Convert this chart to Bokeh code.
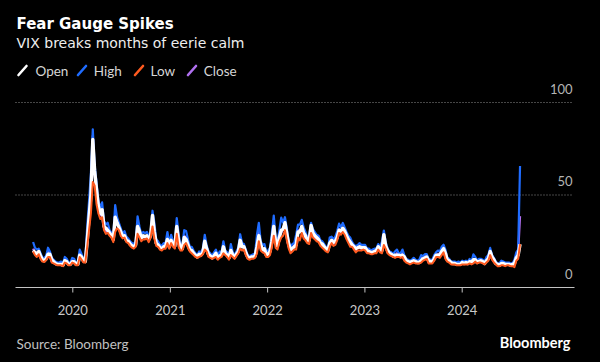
import pandas as pd
from bokeh.plotting import figure
from bokeh.models import Range1d, Label, Arrow
from bokeh.embed import file_html
from bokeh.resources import INLINE

# ---------------- data ----------------
title_text = "Fear Gauge Spikes"
subtitle_text = "VIX breaks months of eerie calm"
source_text = "Source: Bloomberg"
brand_text = "Bloomberg"
series_names = ["Open", "High", "Low", "Close"]
series_colors = ["#ffffff", "#1f6cff", "#ff5a1f", "#b070f0"]
x_tick_labels = ["2020", "2021", "2022", "2023", "2024"]
y_tick_values = [0, 50, 100]
first_week = "2019-08-05"
last_week = "2024-08-05"

open_vals = [
    20.0, 19.0, 17.5, 19.5, 17.0, 15.0, 14.5, 15.5, 18.0, 18.0, 15.0, 14.0, 13.0, 12.5, 12.5, 12.5, 12.0, 14.5, 14.0, 12.5, 12.5, 14.0,
    14.0, 12.5, 12.5, 17.5, 16.5, 14.5, 14.0, 25.0, 38.0, 50.0, 80.0, 63.0, 53.0, 44.0, 40.0, 42.0, 33.0, 32.0, 31.0, 29.5,
    28.0, 26.0, 38.0, 35.0, 32.5, 30.0, 27.5, 28.0, 25.5, 25.0, 23.5, 22.5, 22.0, 23.0, 33.0, 30.5, 26.5, 28.0, 27.5, 28.0,
    26.0, 28.0, 39.0, 30.0, 24.0, 23.0, 21.5, 21.0, 22.0, 22.5, 26.0, 22.0,
    25.5, 23.0, 22.5, 33.0, 25.0, 21.0, 21.0, 27.0, 26.0, 23.0, 20.5, 20.0, 18.5, 17.5, 16.5, 18.0, 17.5, 19.0, 25.0, 21.0,
    18.0, 17.0, 16.0, 17.0, 18.5, 16.0, 17.0, 17.5, 22.0, 18.5, 17.5, 16.0, 20.0, 17.5, 16.5, 18.0, 19.5, 25.5, 22.0, 22.0,
    19.0, 16.5, 16.0, 16.5, 16.5, 17.0, 22.0, 28.0, 23.0, 20.5, 21.0, 17.5,
    18.0, 19.5, 25.0, 33.0, 24.5, 22.5, 27.0, 31.0, 31.5, 35.0, 29.0, 23.5, 20.5, 21.0, 22.0, 23.0, 30.0, 30.0, 33.0, 29.5,
    28.0, 25.0, 25.5, 33.5, 29.5, 28.0, 27.0, 26.0, 24.0, 23.5, 22.0, 21.0, 20.0, 24.0, 25.5, 24.5, 25.0, 27.0, 31.0, 30.5,
    32.0, 30.5, 28.0, 26.0, 24.5, 23.0, 22.0, 21.0, 21.5, 22.0, 21.5, 21.5,
    21.5, 20.0, 19.5, 19.0, 19.0, 19.5, 20.0, 22.0, 20.5, 20.0, 28.5, 22.5, 20.0, 18.5, 18.0, 17.0, 17.5, 17.5, 17.5, 17.0,
    17.5, 16.5, 14.5, 14.0, 13.5, 14.0, 14.5, 14.0, 13.5, 13.5, 14.5, 15.5, 16.0, 16.5, 14.5, 14.0, 14.0, 15.5, 17.5, 17.5,
    17.5, 19.5, 21.0, 18.5, 15.0, 14.5, 13.5, 13.0, 13.0, 12.5, 12.5, 12.5,
    13.5, 13.0, 13.5, 13.0, 14.0, 13.5, 15.0, 15.0, 13.5, 14.0, 14.5, 14.0, 13.0, 14.5, 15.5, 19.5, 16.5, 15.0, 13.0, 12.5,
    12.0, 13.0, 13.0, 12.5, 12.5, 12.5, 12.0, 12.5, 13.0, 16.0, 17.5, 23.4,
]

high_vals = [
    24.6, 21.5, 20.5, 21.0, 18.5, 16.0, 16.0, 17.0, 21.5, 19.5, 16.0, 15.0, 14.0, 13.5, 13.5, 14.0, 13.0, 16.5, 15.5, 13.5, 13.5, 16.0,
    15.5, 13.5, 14.0, 20.5, 18.0, 15.5, 15.5, 33.0, 47.0, 62.0, 85.5, 66.0, 57.0, 47.0, 43.0, 46.0, 36.0, 34.0, 35.0, 31.0,
    29.5, 28.0, 44.5, 38.0, 35.0, 32.0, 29.0, 30.5, 27.5, 26.5, 25.0, 24.0, 23.5, 25.0, 38.5, 33.0, 28.5, 30.0, 29.5, 30.0,
    27.5, 29.5, 41.5, 35.0, 26.0, 25.0, 23.0, 22.5, 24.0, 24.0, 30.0, 23.5,
    28.5, 25.0, 25.0, 37.5, 29.0, 22.5, 23.0, 31.0, 30.5, 26.0, 22.0, 22.0, 20.0, 18.5, 17.5, 19.5, 19.0, 21.0, 28.5, 23.0,
    19.5, 18.5, 17.0, 19.0, 20.5, 17.0, 19.5, 19.0, 25.0, 20.0, 19.0, 17.0, 23.5, 19.0, 17.5, 19.5, 21.5, 28.8, 24.0, 23.5,
    20.5, 17.5, 17.0, 17.5, 18.0, 18.5, 28.5, 35.0, 25.0, 23.0, 23.5, 19.0,
    20.0, 21.5, 29.5, 38.9, 27.0, 25.0, 31.0, 37.8, 35.0, 38.0, 32.0, 25.0, 22.0, 23.5, 24.0, 28.5, 34.0, 34.0, 36.6, 32.5,
    30.0, 27.0, 28.0, 35.0, 31.5, 30.0, 28.5, 28.0, 25.5, 25.0, 23.5, 22.0, 21.0, 27.0, 27.5, 26.0, 27.5, 30.5, 34.5, 32.5,
    34.9, 32.5, 30.0, 28.0, 27.0, 24.5, 23.0, 22.5, 23.0, 24.0, 23.0, 23.0,
    23.0, 21.0, 21.0, 20.0, 20.5, 21.0, 21.0, 23.5, 21.5, 25.0, 30.8, 24.5, 21.0, 19.5, 19.0, 18.0, 19.5, 20.5, 18.5, 18.5,
    20.5, 17.5, 15.5, 15.0, 14.5, 15.0, 16.0, 15.0, 14.5, 15.0, 17.5, 17.0, 18.0, 18.0, 15.5, 15.0, 15.0, 17.5, 19.0, 20.0,
    19.5, 22.0, 23.1, 20.5, 16.0, 15.5, 14.0, 14.0, 14.0, 13.5, 14.0, 13.5,
    14.5, 14.0, 14.5, 14.0, 15.5, 14.0, 17.9, 16.5, 14.5, 15.5, 15.5, 15.0, 14.0, 16.5, 17.5, 21.4, 17.5, 16.0, 14.0, 13.0,
    13.0, 14.5, 14.0, 13.5, 13.5, 13.5, 13.0, 13.0, 15.0, 19.0, 20.5, 65.7,
]

low_vals = [
    19.5, 17.5, 16.5, 18.0, 15.5, 14.0, 13.8, 14.8, 16.5, 16.5, 13.5, 13.0, 12.5, 12.0, 12.0, 12.0, 11.5, 13.5, 13.0, 12.0, 12.0, 13.5,
    13.0, 12.0, 12.0, 16.5, 15.0, 13.5, 13.5, 22.0, 31.0, 40.0, 57.0, 55.0, 45.0, 40.0, 37.0, 38.0, 31.0, 29.0, 29.5, 28.0,
    27.0, 24.5, 30.0, 32.0, 31.0, 28.0, 26.5, 27.0, 24.5, 24.0, 22.5, 21.5, 21.0, 22.0, 29.0, 27.0, 25.0, 26.0, 26.0, 26.5,
    24.5, 27.0, 33.0, 26.5, 22.5, 22.0, 20.5, 20.0, 21.0, 21.0, 24.0, 21.0,
    24.0, 22.0, 21.0, 29.0, 22.0, 20.0, 20.0, 23.0, 24.0, 21.5, 19.5, 18.5, 17.5, 16.5, 16.0, 16.5, 17.0, 18.0, 20.5, 19.5,
    16.5, 16.0, 15.5, 16.0, 16.5, 15.0, 16.0, 16.5, 18.5, 17.5, 16.5, 15.0, 17.5, 16.5, 15.5, 17.0, 18.5, 21.0, 20.0, 20.5,
    17.5, 15.5, 15.0, 15.5, 15.5, 16.0, 18.5, 25.0, 20.0, 19.0, 18.5, 16.5,
    16.5, 17.5, 22.0, 28.0, 21.5, 20.5, 24.5, 27.0, 28.0, 31.0, 25.5, 21.0, 18.5, 19.5, 20.5, 20.5, 27.0, 25.5, 29.5, 26.5,
    25.5, 24.0, 23.5, 29.5, 27.0, 26.0, 25.0, 24.5, 22.5, 21.5, 20.5, 19.5, 19.0, 22.0, 24.0, 22.5, 23.0, 25.5, 29.5, 28.5,
    30.0, 28.5, 26.0, 24.0, 22.0, 22.0, 20.5, 19.0, 20.0, 20.0, 20.0, 20.5,
    20.0, 18.5, 18.5, 18.0, 18.0, 18.5, 18.5, 20.5, 19.0, 18.5, 23.0, 21.0, 18.5, 17.5, 17.0, 16.5, 16.0, 16.5, 16.5, 16.0,
    16.5, 14.5, 13.5, 13.0, 12.5, 13.0, 13.5, 13.0, 13.0, 13.0, 13.5, 14.5, 15.0, 15.5, 13.0, 13.0, 13.0, 14.5, 16.5, 16.5,
    16.0, 17.5, 19.0, 15.5, 14.0, 13.5, 12.5, 12.5, 12.5, 12.0, 12.0, 12.0,
    12.5, 12.5, 12.5, 12.5, 13.0, 12.5, 13.0, 14.0, 13.0, 13.5, 13.5, 13.0, 12.5, 13.5, 14.5, 17.5, 15.0, 13.5, 12.5, 11.5,
    11.5, 12.0, 12.0, 11.5, 12.0, 12.0, 11.5, 11.5, 11.0, 14.5, 15.5, 23.4,
]

close_vals = [
    21.0, 18.5, 19.0, 18.5, 16.0, 14.5, 15.0, 16.5, 19.5, 17.0, 14.0, 13.5, 13.0, 12.5, 12.5, 13.0, 12.0, 15.0, 13.5, 12.5, 13.0, 14.5,
    13.5, 12.5, 13.0, 18.0, 15.5, 14.0, 15.0, 27.5, 36.0, 55.0, 82.0, 61.0, 50.0, 42.0, 39.0, 41.0, 33.5, 30.0, 32.0, 28.5,
    27.5, 25.5, 40.0, 34.0, 33.5, 29.5, 27.5, 28.0, 25.5, 25.0, 23.0, 22.5, 22.0, 23.5, 33.5, 28.5, 26.0, 27.5, 27.0, 27.0,
    26.0, 28.5, 38.0, 27.5, 24.0, 23.0, 21.5, 21.0, 22.0, 22.0, 25.5, 22.5,
    26.0, 23.0, 22.0, 34.0, 23.5, 21.0, 22.0, 28.0, 27.0, 22.5, 20.5, 19.5, 18.0, 17.0, 16.5, 17.5, 18.0, 18.5, 26.0, 20.0,
    17.0, 16.5, 16.0, 18.5, 17.0, 15.5, 17.5, 17.5, 20.0, 18.0, 17.0, 15.5, 20.5, 17.0, 16.0, 18.5, 20.0, 25.5, 23.0, 21.5,
    18.5, 16.0, 16.0, 16.5, 16.5, 17.0, 24.0, 30.0, 21.0, 21.0, 19.5, 17.5,
    18.5, 19.0, 27.0, 31.0, 23.5, 24.0, 28.0, 29.5, 32.0, 34.0, 26.5, 22.0, 19.5, 21.5, 22.5, 27.0, 31.0, 30.0, 32.0, 29.5,
    27.0, 25.0, 26.5, 32.0, 28.0, 27.0, 26.0, 25.5, 23.5, 22.5, 21.5, 20.0, 20.0, 25.0, 25.5, 23.5, 26.0, 28.5, 31.5, 30.0,
    32.0, 30.0, 27.0, 25.5, 23.5, 23.0, 21.5, 20.0, 22.0, 21.5, 21.0, 21.5,
    21.0, 19.0, 19.5, 18.5, 18.5, 20.0, 19.5, 22.0, 19.5, 23.5, 26.0, 22.0, 19.0, 18.5, 17.5, 17.0, 17.0, 18.5, 17.0, 17.0,
    18.5, 15.0, 14.0, 13.5, 13.5, 13.5, 14.5, 13.5, 13.5, 13.5, 16.0, 15.0, 17.0, 16.0, 13.5, 14.0, 13.5, 16.5, 17.5, 18.0,
    18.5, 20.5, 20.5, 16.0, 14.5, 14.0, 13.0, 13.0, 13.0, 12.5, 13.0, 12.5,
    13.0, 13.0, 13.0, 13.0, 14.0, 13.0, 14.5, 15.0, 13.5, 14.5, 14.5, 13.5, 13.0, 15.5, 17.0, 18.5, 15.5, 14.0, 13.0, 12.0,
    12.0, 13.0, 12.5, 12.5, 13.0, 12.5, 12.0, 12.5, 14.5, 16.5, 18.5, 38.6,
]

week_dates = pd.date_range(first_week, last_week, freq="W-MON")
series_vals = {"Open": open_vals, "High": high_vals, "Low": low_vals, "Close": close_vals}

# ---------------- layout (canvas pixels) ----------------
W, H = 600, 362
X_REF_DATE = pd.Timestamp("2020-01-01")
X_REF_PX = 72.3          # pixel of 2020-01-01
PX_PER_DAY = 0.26653
Y_ZERO_PX = 287.0        # pixel of value 0
PX_PER_UNIT = 1.85
AXIS_LEFT_PX, AXIS_RIGHT_PX = 15, 574
GRID_RIGHT_PX = 571


def ms_at(px):
    return (X_REF_DATE + pd.Timedelta(days=(px - X_REF_PX) / PX_PER_DAY)).value / 1e6


def val_at(py):
    return (Y_ZERO_PX - py) / PX_PER_UNIT


def sy(py):  # screen units for Label: measured up from canvas bottom
    return H - py


p = figure(
    width=W, height=H,
    output_backend="svg", toolbar_location=None,
    x_range=Range1d(ms_at(0), ms_at(W)),
    y_range=Range1d(val_at(H), val_at(0)),
    x_axis_location=None, y_axis_location=None,
    min_border=0, min_border_left=0, min_border_right=0, min_border_top=0, min_border_bottom=0,
    background_fill_color="#000000", border_fill_color="#000000",
    outline_line_color=None,
)
p.grid.visible = False

# dotted gridlines
grid_vals = [v for v in y_tick_values if v > 0]
p.segment(x0=[ms_at(AXIS_LEFT_PX)] * len(grid_vals), y0=grid_vals,
          x1=[ms_at(GRID_RIGHT_PX)] * len(grid_vals), y1=grid_vals,
          line_color="#8c8c8c", line_width=1, line_dash="1 2")

# x axis line, ticks and labels
p.segment(x0=[ms_at(AXIS_LEFT_PX)], y0=[0], x1=[ms_at(AXIS_RIGHT_PX)], y1=[0],
          line_color="#c4c4c4", line_width=1)
tick_ms = [pd.Timestamp(f"{lab}-01-01").value / 1e6 for lab in x_tick_labels]
p.segment(x0=tick_ms, y0=[0] * len(tick_ms), x1=tick_ms, y1=[-5 / PX_PER_UNIT] * len(tick_ms),
          line_color="#c4c4c4", line_width=1)
for t, lab in zip(tick_ms, x_tick_labels):
    p.add_layout(Label(x=t, y=sy(309), x_units="data", y_units="screen", text=lab,
                       text_align="center", text_baseline="middle",
                       text_color="#c8c8c8", text_font="Lato", text_font_size="13px"))

# series lines (drawing order: Close, High, Open, Low)
line_widths = {"Open": 3.4, "High": 2.2, "Low": 2.0, "Close": 2.2}
color_of = dict(zip(series_names, series_colors))
for name in ["Close", "High", "Open", "Low"]:
    p.line(week_dates, series_vals[name], line_color=color_of[name],
           line_width=line_widths[name], line_join="round")

# y tick labels (above gridlines at right)
for v in y_tick_values:
    p.add_layout(Label(x=572, y=v, x_units="screen", y_units="data",
                       text=str(v), text_align="right", text_baseline="middle",
                       y_offset=14, text_color="#b4b4b4", text_font="Lato",
                       text_font_size="13px"))

# titles
p.add_layout(Label(x=16, y=sy(23.5), x_units="screen", y_units="screen",
                   text=title_text, text_font="DejaVu Sans", text_font_style="bold",
                   text_font_size="15px", text_color="#ffffff", text_baseline="middle"))
p.add_layout(Label(x=16, y=sy(42.5), x_units="screen", y_units="screen",
                   text=subtitle_text, text_font="DejaVu Sans",
                   text_font_size="14px", text_color="#eeeeee", text_baseline="middle"))

# legend
icon_px = [17, 76.5, 133.5, 186.5]
text_px = [35, 93.3, 150, 203.3]
for name, color, ix, tx in zip(series_names, series_colors, icon_px, text_px):
    p.add_layout(Arrow(start=None, end=None,
                       x_start=ix + 1, y_start=sy(74.5), x_end=ix + 9, y_end=sy(65.5),
                       start_units="screen", end_units="screen",
                       line_color=color, line_width=2.6, line_cap="round"))
    p.add_layout(Label(x=tx, y=sy(70.5), x_units="screen", y_units="screen",
                       text=name, text_font="Lato", text_font_size="13.5px",
                       text_color="#d6d6d6", text_baseline="middle"))

# footer
p.add_layout(Label(x=16, y=sy(343.5), x_units="screen", y_units="screen",
                   text=source_text, text_font="Lato", text_font_size="13.5px",
                   text_color="#c0c0c0", text_baseline="middle"))
p.add_layout(Label(x=570, y=sy(341.5), x_units="screen", y_units="screen",
                   text=brand_text, text_font="Lato", text_font_style="bold",
                   text_font_size="14.5px", text_color="#ffffff",
                   text_align="right", text_baseline="middle"))

html = file_html(p, INLINE, title="Fear Gauge Spikes")
html = html.replace("</head>", "<style>html, body { background: #000000; }</style></head>", 1)
open("out.html", "w").write(html)
